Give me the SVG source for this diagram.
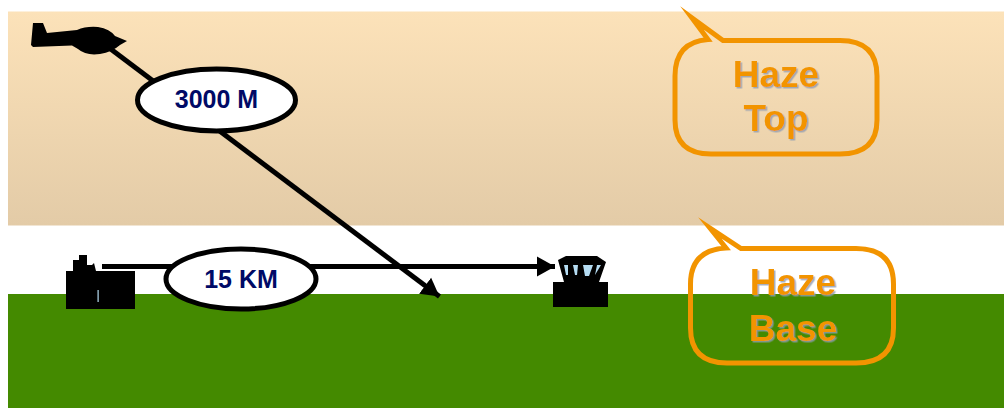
<svg xmlns="http://www.w3.org/2000/svg" width="1004" height="408" viewBox="0 0 1004 408">
<style>
.ln{fill:none;stroke:#000;stroke-width:5}
.el{fill:#fff;stroke:#000;stroke-width:5}
.lb{font:bold 25px "Liberation Sans",Arial,sans-serif;fill:#000a66;text-anchor:middle}
.co{fill:none;stroke:#f29400;stroke-width:5;stroke-linejoin:miter;stroke-miterlimit:12}
.ct{font:bold 37px "Liberation Sans",Arial,sans-serif;fill:#f29400;text-anchor:middle;filter:url(#sh)}
.ic{fill:#000}
.wn{fill:#b5dcf2}
</style>
<defs>
<linearGradient id="sky" x1="0" y1="0" x2="0" y2="1"><stop offset="0" stop-color="#fce2b9"/><stop offset="1" stop-color="#e3cba7"/></linearGradient>
<filter id="sh" x="-10%" y="-10%" width="125%" height="125%"><feDropShadow dx="1.500" dy="1.500" stdDeviation="0.600" flood-color="#8f9bb0" flood-opacity="0.800"/></filter>
<marker id="ah" markerUnits="userSpaceOnUse" markerWidth="24" markerHeight="24" refX="18" refY="12" orient="auto"><path d="M0,2 L18,12 L0,22 Z" fill="#000"/></marker>
</defs>
<rect id="haze-layer" x="8" y="11.500" width="996" height="214" fill="url(#sky)"/>
<rect id="ground" x="8" y="294" width="996" height="114" fill="#448a00"/>
<g id="connectors">
<path class="ln" d="M108,47 L439.500,296.500" marker-end="url(#ah)"/>
<path class="ln" d="M102,266.500 H555" marker-end="url(#ah)"/>
</g>
<g id="aircraft"><path class="ic" d="M33,23 L43,23 L47,33 L77,30 Q86,26 98,27 Q110,29 115,36 L127,41 L120,45 Q112,52 100,54 Q86,56 78,49 L72,45.500 L33,47 L31,45 Z"/></g>
<g id="station"><path class="ic" d="M66,271 H73 V260 H79 V255 H87 V265 H92 L94,263 L96,271 H135 V309 H66 Z"/><rect class="wn" x="97.500" y="290" width="1.200" height="12"/></g>
<g id="tower"><path class="ic" d="M558,260 L566,256 H597 L606,262 L599,282 H608 V307 H553 V282 H564 Z"/>
<path class="wn" d="M564,265 L568,265 L568,275 L566,275 Z"/><path class="wn" d="M573,265 L578,265 L577,275 L575,275 Z"/><path class="wn" d="M583,265 L593,265 L589,276 L585,276 Z"/><path class="wn" d="M597,265 L601,265 L595,275 Z"/></g>
<g id="label-3000m"><ellipse class="el" cx="216.500" cy="100" rx="79" ry="31"/><text class="lb" x="216.500" y="108">3000 M</text></g>
<g id="label-15km"><ellipse class="el" cx="241" cy="279" rx="75" ry="30"/><text class="lb" x="241" y="288">15 KM</text></g>
<g id="haze-top"><path class="co" d="M723,40.500 H840 Q877,40.500 877,76 V120 Q877,154 840,154 H711 Q675,154 675,120 V76 Q675,42 708,39.500 L692,18 Z"/><text class="ct" x="776" y="87">Haze</text><text class="ct" x="776" y="131">Top</text></g>
<g id="haze-base"><path class="co" d="M741,248.500 H856 Q893.500,248.500 893.500,284 V328 Q893.500,363 856,363 H727 Q690.500,363 690.500,328 V284 Q690.500,250 726,248 L710,228 Z"/><text class="ct" x="793" y="295">Haze</text><text class="ct" x="793" y="341">Base</text></g>
</svg>
